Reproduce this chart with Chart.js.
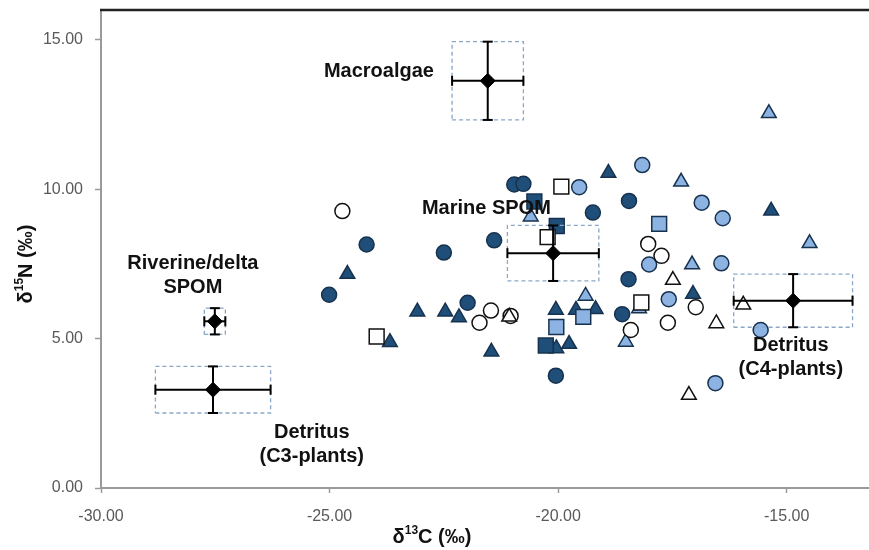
<!DOCTYPE html>
<html>
<head>
<meta charset="utf-8">
<script src="https://cdn.jsdelivr.net/npm/chart.js@4.4.1/dist/chart.umd.min.js"></script>
<style>
  html, body { margin: 0; padding: 0; background: #fff; }
  #wrap { width: 869px; height: 550px; position: relative; }
</style>
</head>
<body>
<div id="wrap"><canvas id="chart"></canvas></div>
<script>
// consumer samples, [d13C, d15N]
const darkCircles = [
  [-20.96, 10.16], [-20.76, 10.18], [-19.24, 9.22], [-18.45, 9.61], [-24.19, 8.15],
  [-22.50, 7.88], [-21.40, 8.29], [-25.01, 6.47], [-21.98, 6.20], [-20.05, 3.76],
  [-18.46, 6.99], [-18.60, 5.82]
]
const darkTriangles = [
  [-24.61, 7.16], [-23.08, 5.90], [-22.47, 5.90], [-22.17, 5.71], [-23.68, 4.88],
  [-21.46, 4.56], [-20.05, 5.96], [-19.61, 5.96], [-19.18, 5.98], [-20.04, 4.67],
  [-19.76, 4.82], [-18.90, 10.54], [-15.34, 9.28], [-17.05, 6.49]
]
const darkSquares = [[-20.52, 9.59], [-20.03, 8.77], [-20.27, 4.77]]
const lightCircles = [
  [-18.16, 10.81], [-19.54, 10.07], [-16.86, 9.55], [-16.40, 9.03], [-18.01, 7.48],
  [-16.43, 7.52], [-17.58, 6.32], [-15.57, 5.29], [-16.56, 3.51]
]
const lightTriangles = [
  [-15.39, 12.54], [-17.31, 10.25], [-14.50, 8.19], [-17.07, 7.48], [-20.60, 9.08],
  [-19.40, 6.43], [-18.23, 6.01], [-18.52, 4.89]
]
const lightSquares = [[-17.79, 8.84], [-19.45, 5.73], [-20.04, 5.39]]
const whiteCircles = [
  [-24.72, 9.27], [-21.47, 5.94], [-21.72, 5.53], [-21.04, 5.76], [-18.03, 8.17],
  [-17.74, 7.77], [-16.99, 6.05], [-18.41, 5.29], [-17.60, 5.53]
]
const whiteTriangles = [[-21.07, 5.73], [-17.49, 6.96], [-16.54, 5.51], [-15.95, 6.13], [-17.14, 3.11]]
const whiteSquares = [[-19.93, 10.09], [-20.23, 8.40], [-23.97, 5.07], [-18.18, 6.21]]

// food sources: mean and SD
const sourceNames = ['Macroalgae', 'Marine SPOM', 'Riverine/delta\nSPOM', 'Detritus\n(C3-plants)', 'Detritus\n(C4-plants)']
const sourceMeanC = [-21.54, -20.11, -27.51, -27.55, -14.86]
const sourceMeanN = [13.63, 7.86, 5.58, 3.29, 6.27]
const sourceSdC = [0.78, 1.00, 0.23, 1.26, 1.30]
const sourceSdN = [1.31, 0.93, 0.44, 0.78, 0.89]
// where the source names sit (data units)
const labelC = [-23.92, -21.57, -27.99, -25.39, -14.91]
const labelN = [13.94, 9.34, 7.10, 1.47, 4.37]

const xTicks = [-30, -25, -20, -15]
const yTicks = [0, 5, 10, 15]

const DARK = '#1F4E79'
const LIGHT = '#8DB3E2'
const EDGE = '#17324F'

const toPts = arr => arr.map(p => ({ x: p[0], y: p[1] }))

function markerSet(data, style, fill, edge, radius) {
  return {
    data: toPts(data),
    pointStyle: style,
    pointRadius: radius,
    pointBackgroundColor: fill,
    pointBorderColor: edge,
    pointBorderWidth: 1.5,
    showLine: false,
    order: 10
  }
}

const datasets = [
  markerSet(whiteSquares, 'rect', '#fff', '#111', 10.5),
  markerSet(whiteTriangles, 'triangle', '#fff', '#111', 8.5),
  markerSet(whiteCircles, 'circle', '#fff', '#111', 7.5),
  markerSet(lightSquares, 'rect', LIGHT, EDGE, 10.5),
  markerSet(lightTriangles, 'triangle', LIGHT, EDGE, 8.5),
  markerSet(lightCircles, 'circle', LIGHT, EDGE, 7.5),
  markerSet(darkSquares, 'rect', DARK, EDGE, 10.5),
  markerSet(darkTriangles, 'triangle', DARK, EDGE, 8.5),
  markerSet(darkCircles, 'circle', DARK, EDGE, 7.5)
]

sourceMeanC.forEach((mc, i) => {
  const mn = sourceMeanN[i], sc = sourceSdC[i], sn = sourceSdN[i]
  // dashed SD box
  datasets.push({
    data: [
      { x: mc - sc, y: mn - sn }, { x: mc + sc, y: mn - sn }, { x: mc + sc, y: mn + sn },
      { x: mc - sc, y: mn + sn }, { x: mc - sc, y: mn - sn }
    ],
    showLine: true, borderColor: '#8AA6C8', borderWidth: 1.3, borderDash: [4, 3],
    pointRadius: 0, order: 3
  })
  // horizontal error bar
  datasets.push({
    data: [{ x: mc - sc, y: mn }, { x: mc + sc, y: mn }],
    showLine: true, borderColor: '#000', borderWidth: 2,
    pointStyle: 'line', pointRotation: 90, pointRadius: 5, pointBorderWidth: 2,
    pointBorderColor: '#000', order: 2
  })
  // vertical error bar
  datasets.push({
    data: [{ x: mc, y: mn - sn }, { x: mc, y: mn + sn }],
    showLine: true, borderColor: '#000', borderWidth: 2,
    pointStyle: 'line', pointRotation: 0, pointRadius: 5, pointBorderWidth: 2,
    pointBorderColor: '#000', order: 2
  })
})

datasets.push({
  data: sourceMeanC.map((c, i) => ({ x: c, y: sourceMeanN[i] })),
  pointStyle: 'rectRot', pointRadius: 7.5, pointBackgroundColor: '#000',
  pointBorderColor: '#000', pointBorderWidth: 1, showLine: false, order: 1
})

function drawRich(ctx, parts, x, y, size) {
  const big = `bold ${size}px "Liberation Sans", Arial, sans-serif`
  const small = `bold ${Math.round(size * 0.62)}px "Liberation Sans", Arial, sans-serif`
  let total = 0
  parts.forEach(p => { ctx.font = p[1] ? small : big; total += ctx.measureText(p[0]).width })
  let cx = x - total / 2
  ctx.textAlign = 'left'
  ctx.textBaseline = 'middle'
  parts.forEach(p => {
    ctx.font = p[1] ? small : big
    ctx.fillText(p[0], cx, p[1] ? y - size * 0.3 : y)
    cx += ctx.measureText(p[0]).width
  })
}

const annotations = {
  id: 'annotations',
  afterDraw(chart) {
    const { ctx, chartArea, scales } = chart
    ctx.save()
    // top frame line
    ctx.strokeStyle = '#222'
    ctx.lineWidth = 2.5
    ctx.beginPath()
    ctx.moveTo(chartArea.left - 1, chartArea.top)
    ctx.lineTo(chartArea.right, chartArea.top)
    ctx.stroke()

    ctx.fillStyle = '#111'
    ctx.font = 'bold 20px "Liberation Sans", Arial, sans-serif'
    ctx.textAlign = 'center'
    ctx.textBaseline = 'middle'
    sourceNames.forEach((name, i) => {
      const lines = name.split('\n')
      const px = scales.x.getPixelForValue(labelC[i])
      const py = scales.y.getPixelForValue(labelN[i])
      lines.forEach((ln, j) => {
        ctx.fillText(ln, px, py + (j - (lines.length - 1) / 2) * 24)
      })
    })

    // axis titles
    drawRich(ctx, [['δ', false], ['13', true], ['C (‰)', false]], 432, 537, 20)
    ctx.translate(26, 264)
    ctx.rotate(-Math.PI / 2)
    drawRich(ctx, [['δ', false], ['15', true], ['N (‰)', false]], 0, 0, 20)
    ctx.restore()
  }
}

const tickFont = { family: '"Liberation Sans", Arial, sans-serif', size: 16 }

new Chart(document.getElementById('chart'), {
  type: 'scatter',
  data: { datasets: datasets },
  options: {
    responsive: true,
    maintainAspectRatio: false,
    animation: false,
    layout: { padding: { top: 10, right: 0, left: 0, bottom: 0 }, autoPadding: false },
    plugins: { legend: { display: false }, tooltip: { enabled: false } },
    scales: {
      x: {
        type: 'linear',
        min: -30,
        max: -13.2,
        afterBuildTicks: axis => { axis.ticks = xTicks.map(v => ({ value: v })) },
        afterFit: scale => { scale.height = 62; scale.paddingLeft = 0; scale.paddingRight = 0 },
        grid: { drawOnChartArea: false, tickLength: 5, tickWidth: 1.5, tickColor: '#9a9a9a' },
        border: { color: '#9a9a9a', width: 2 },
        ticks: {
          font: tickFont, color: '#595959', padding: 14, maxRotation: 0,
          callback: v => v.toFixed(2)
        }
      },
      y: {
        min: 0,
        max: 16,
        afterBuildTicks: axis => { axis.ticks = yTicks.map(v => ({ value: v })) },
        afterFit: scale => { scale.width = 101; scale.paddingTop = 0; scale.paddingBottom = 0 },
        grid: { drawOnChartArea: false, tickLength: 6, tickWidth: 1.5, tickColor: '#9a9a9a' },
        border: { color: '#9a9a9a', width: 2 },
        ticks: {
          font: tickFont, color: '#595959', padding: 12,
          callback: v => v.toFixed(2)
        }
      }
    }
  },
  plugins: [annotations]
})
</script>
</body>
</html>
